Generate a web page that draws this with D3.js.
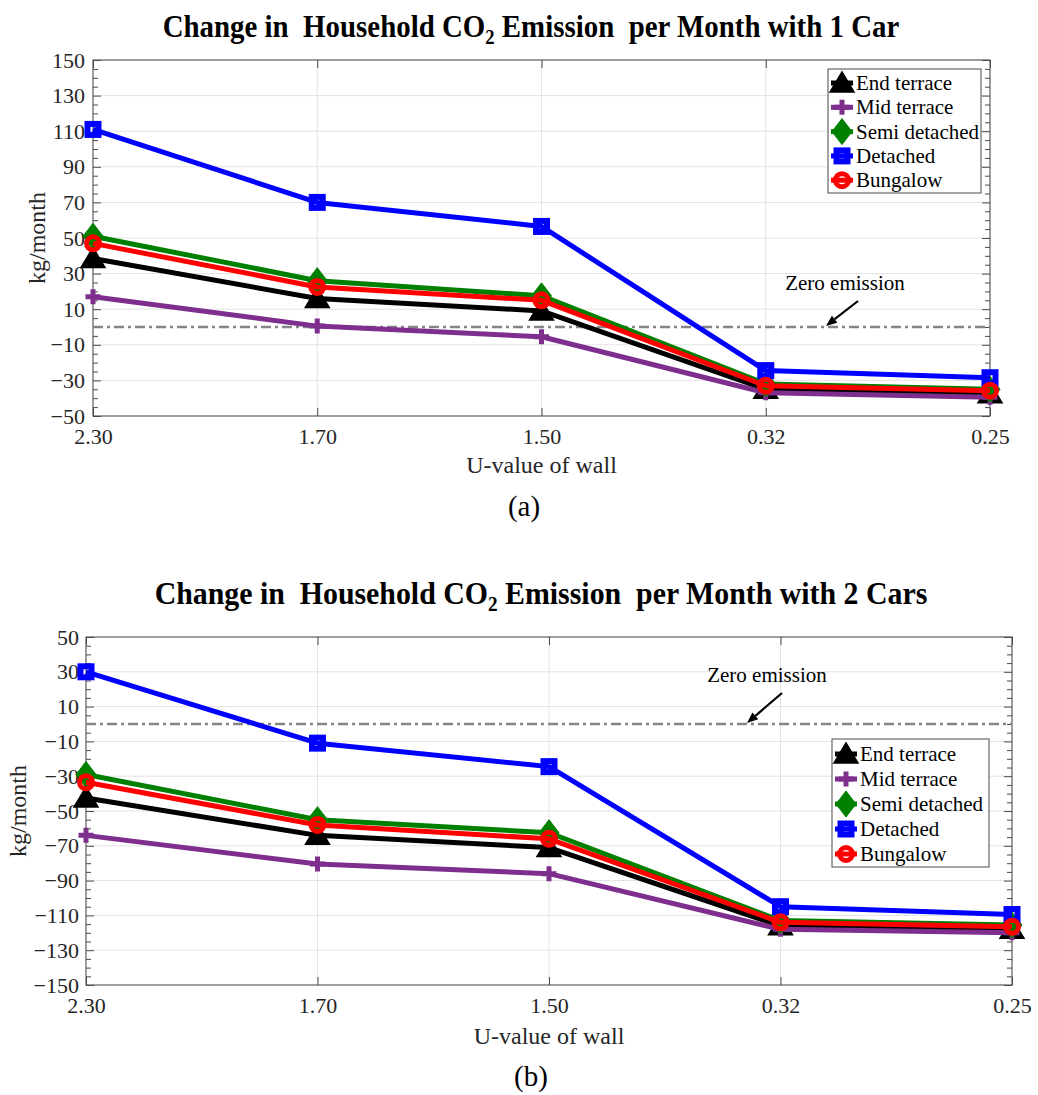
<!DOCTYPE html>
<html>
<head>
<meta charset="utf-8">
<script src="https://cdn.jsdelivr.net/npm/d3@7"></script>
<style>
  body { margin: 0; background: #fff; }
</style>
</head>
<body>
<svg id="fig" width="1038" height="1095" font-family="Liberation Serif"></svg>
<script>
// ---- data -------------------------------------------------------------
const uValues = ["2.30", "1.70", "1.50", "0.32", "0.25"];
const houseTypes = ["End terrace", "Mid terrace", "Semi detached", "Detached", "Bungalow"];

// kg CO2 per month, household with one car
const endTerrace1   = [38.5, 16, 9, -35, -37.5];
const midTerrace1   = [17, 0.5, -5.5, -37, -39.5];
const semiDetached1 = [51, 26, 17.5, -32, -35];
const detached1     = [111, 70, 56.5, -24.5, -28.5];
const bungalow1     = [47, 22.5, 15, -33, -35.8];

// kg CO2 per month, household with two cars
const endTerrace2   = [-42.5, -64, -71, -116, -118];
const midTerrace2   = [-64, -80.5, -86, -118, -120];
const semiDetached2 = [-29, -55, -62.5, -113, -115.5];
const detached2     = [30, -11, -24.5, -105, -109.5];
const bungalow2     = [-33.5, -58, -66, -114, -116.5];

const yTicks1 = d3.range(-50, 151, 20);
const yTicks2 = d3.range(-150, 51, 20);

// ---- styles -------------------------------------------------------------
const FONT = "Liberation Serif";
const seriesStyle = [
  { color: "#000000", marker: "triangle" },
  { color: "#7e2f8e", marker: "plus" },
  { color: "#008000", marker: "diamond" },
  { color: "#0000ff", marker: "square" },
  { color: "#ff0000", marker: "circle" }
];

const svg = d3.select("#fig");

function drawMarker(g, type, color) {
  if (type === "triangle") {
    g.append("path").attr("d", "M0,-11L12,9L-12,9Z")
      .attr("fill", color).attr("stroke", color).attr("stroke-width", 1.5).attr("stroke-linejoin", "miter");
  } else if (type === "plus") {
    g.append("path").attr("d", "M-7.5,0H7.5M0,-7.5V7.5")
      .attr("fill", "none").attr("stroke", color).attr("stroke-width", 5);
  } else if (type === "diamond") {
    g.append("path").attr("d", "M0,-13L10,0L0,13L-10,0Z")
      .attr("fill", color).attr("stroke", color).attr("stroke-width", 1);
  } else if (type === "square") {
    g.append("rect").attr("x", -5.5).attr("y", -5.5).attr("width", 11).attr("height", 11)
      .attr("fill", "none").attr("stroke", color).attr("stroke-width", 6);
  } else if (type === "circle") {
    g.append("circle").attr("r", 6.5)
      .attr("fill", "none").attr("stroke", color).attr("stroke-width", 5);
  }
}

function label(g, x, y, str, size, opts = {}) {
  return g.append("text").attr("x", x).attr("y", y)
    .attr("font-family", FONT).attr("font-size", size)
    .attr("text-anchor", opts.anchor || "middle")
    .attr("fill", opts.fill || "#000")
    .text(str);
}

function drawPanel(p) {
  const g = svg.append("g");
  const x = d3.scalePoint().domain(uValues).range([p.left, p.right]).padding(0);
  const y = d3.scaleLinear().domain(p.yDomain).range([p.bottom, p.top]);
  const minors = d3.range(p.yDomain[0], p.yDomain[1] + 0.1, 5).filter(v => !p.yTicks.includes(v));
  const axisColor = "#4a4a4a";

  // grid
  const grid = g.append("g").attr("stroke", "#e3e3e3").attr("stroke-width", 1);
  p.yTicks.forEach(v => grid.append("line")
    .attr("x1", p.left).attr("x2", p.right).attr("y1", y(v)).attr("y2", y(v)));
  uValues.forEach(u => grid.append("line")
    .attr("x1", x(u)).attr("x2", x(u)).attr("y1", p.top).attr("y2", p.bottom));

  // box
  g.append("rect").attr("x", p.left).attr("y", p.top)
    .attr("width", p.right - p.left).attr("height", p.bottom - p.top)
    .attr("fill", "none").attr("stroke", axisColor).attr("stroke-width", 1);

  const styleAxis = a => {
    a.attr("font-family", FONT).attr("font-size", p.tickFont);
    a.select(".domain").remove();
    a.selectAll(".tick line").attr("stroke", axisColor);
    a.selectAll("text").attr("fill", "#262626").attr("font-family", FONT).attr("font-size", p.tickFont);
  };

  // y axes (left with labels, right mirrored), ticks pointing inward
  g.append("g").attr("transform", `translate(${p.left},0)`)
    .call(d3.axisLeft(y).tickValues(p.yTicks).tickSize(-8).tickPadding(p.yPad).tickFormat(d3.format("d")))
    .call(styleAxis);
  g.append("g").attr("transform", `translate(${p.left},0)`)
    .call(d3.axisLeft(y).tickValues(minors).tickSize(-5).tickFormat(""))
    .call(styleAxis);
  g.append("g").attr("transform", `translate(${p.right},0)`)
    .call(d3.axisRight(y).tickValues(p.yTicks).tickSize(-8).tickFormat(""))
    .call(styleAxis);
  g.append("g").attr("transform", `translate(${p.right},0)`)
    .call(d3.axisRight(y).tickValues(minors).tickSize(-5).tickFormat(""))
    .call(styleAxis);

  // x axes
  g.append("g").attr("transform", `translate(0,${p.bottom})`)
    .call(d3.axisBottom(x).tickSize(-8).tickPadding(p.xPad))
    .call(styleAxis);
  g.append("g").attr("transform", `translate(0,${p.top})`)
    .call(d3.axisTop(x).tickSize(-8).tickFormat(""))
    .call(styleAxis);

  // zero emission reference line
  g.append("line").attr("x1", p.left).attr("x2", p.right)
    .attr("y1", y(0)).attr("y2", y(0))
    .attr("stroke", "#858585").attr("stroke-width", 2.5)
    .attr("stroke-dasharray", "10,4,3,4");

  // series
  const line = d3.line().x((d, i) => x(uValues[i])).y(d => y(d));
  p.series.forEach((vals, si) => {
    const st = seriesStyle[si];
    const sg = g.append("g");
    sg.append("path").datum(vals).attr("d", line)
      .attr("fill", "none").attr("stroke", st.color).attr("stroke-width", 5)
      .attr("stroke-linejoin", "round");
    vals.forEach((v, i) => {
      const mg = sg.append("g").attr("transform", `translate(${x(uValues[i])},${y(v)})`);
      drawMarker(mg, st.marker, st.color);
    });
  });

  // annotation
  const ann = g.append("g");
  label(ann, p.annText[0], p.annText[1], "Zero emission", 21);
  const tipX = p.annTipX, tipY = y(0) - 1;
  const [sx, sy] = p.annStart;
  const ang = Math.atan2(tipY - sy, tipX - sx);
  const hl = 11, hw = 4.5;
  const bx = tipX - hl * Math.cos(ang), by = tipY - hl * Math.sin(ang);
  ann.append("line").attr("x1", sx).attr("y1", sy).attr("x2", bx).attr("y2", by)
    .attr("stroke", "#000").attr("stroke-width", 2.2);
  ann.append("path").attr("d",
    `M${tipX},${tipY}L${bx + hw * Math.sin(ang)},${by - hw * Math.cos(ang)}L${bx - hw * Math.sin(ang)},${by + hw * Math.cos(ang)}Z`)
    .attr("fill", "#000");

  // legend
  const lg = g.append("g");
  lg.append("rect").attr("x", p.legend.x).attr("y", p.legend.y)
    .attr("width", p.legend.w).attr("height", p.legend.h)
    .attr("fill", "#fff").attr("stroke", "#4a4a4a").attr("stroke-width", 1);
  houseTypes.forEach((name, i) => {
    const cy = p.legend.y + p.legend.first + i * p.legend.step;
    const mx = p.legend.x + 14;
    const st = seriesStyle[i];
    lg.append("line").attr("x1", mx - 11).attr("x2", mx + 11).attr("y1", cy).attr("y2", cy)
      .attr("stroke", st.color).attr("stroke-width", 5);
    drawMarker(lg.append("g").attr("transform", `translate(${mx},${cy})`), st.marker, st.color);
    label(lg, mx + 14, cy + 7, name, 21, { anchor: "start" });
  });

  // axis labels
  label(g, (p.left + p.right) / 2, p.xLabelY, "U-value of wall", 24, { fill: "#262626" });
  g.append("text")
    .attr("transform", `translate(${p.yLabelX},${(p.top + p.bottom) / 2}) rotate(-90)`)
    .attr("font-family", FONT).attr("font-size", 24)
    .attr("text-anchor", "middle").attr("fill", "#262626")
    .text("kg/month");

  // panel tag
  label(g, p.tag[0], p.tag[1], p.tagText, 29);

  // title with subscript, fitted to its width
  const t = g.append("text").attr("x", p.titleX).attr("y", p.titleY)
    .attr("font-family", FONT).attr("font-size", 31).attr("font-weight", "bold")
    .attr("text-anchor", "middle").attr("fill", "#000");
  t.append("tspan").text("Change in\u00A0 Household CO");
  t.append("tspan").attr("dy", 7).attr("font-size", 20).text("2");
  t.append("tspan").attr("dy", -7).text(" Emission\u00A0 per Month with " + p.titleTail);
  const w = t.node().getComputedTextLength();
  const s = p.titleW / w;
  t.attr("transform", `translate(${p.titleX},0) scale(${s},1) translate(${-p.titleX},0)`);
}

drawPanel({
  left: 93, right: 990, top: 60, bottom: 416,
  yDomain: [-50, 150], yTicks: yTicks1,
  tickFont: 22, yPad: 8, xPad: 12,
  series: [endTerrace1, midTerrace1, semiDetached1, detached1, bungalow1],
  annText: [845, 290], annTipX: 826, annStart: [858, 301],
  legend: { x: 828, y: 69, w: 153, h: 124, first: 14, step: 24.3 },
  xLabelY: 473, yLabelX: 45,
  tag: [524, 516], tagText: "(a)",
  titleX: 531, titleY: 37, titleW: 737, titleTail: "1 Car"
});

drawPanel({
  left: 86, right: 1012, top: 637, bottom: 985,
  yDomain: [-150, 50], yTicks: yTicks2,
  tickFont: 22, yPad: 7, xPad: 12,
  series: [endTerrace2, midTerrace2, semiDetached2, detached2, bungalow2],
  annText: [767, 682], annTipX: 747, annStart: [782, 693],
  legend: { x: 832, y: 739, w: 157, h: 128, first: 15, step: 25 },
  xLabelY: 1044, yLabelX: 26,
  tag: [531, 1086], tagText: "(b)",
  titleX: 541, titleY: 604, titleW: 773, titleTail: "2 Cars"
});
</script>
</body>
</html>
